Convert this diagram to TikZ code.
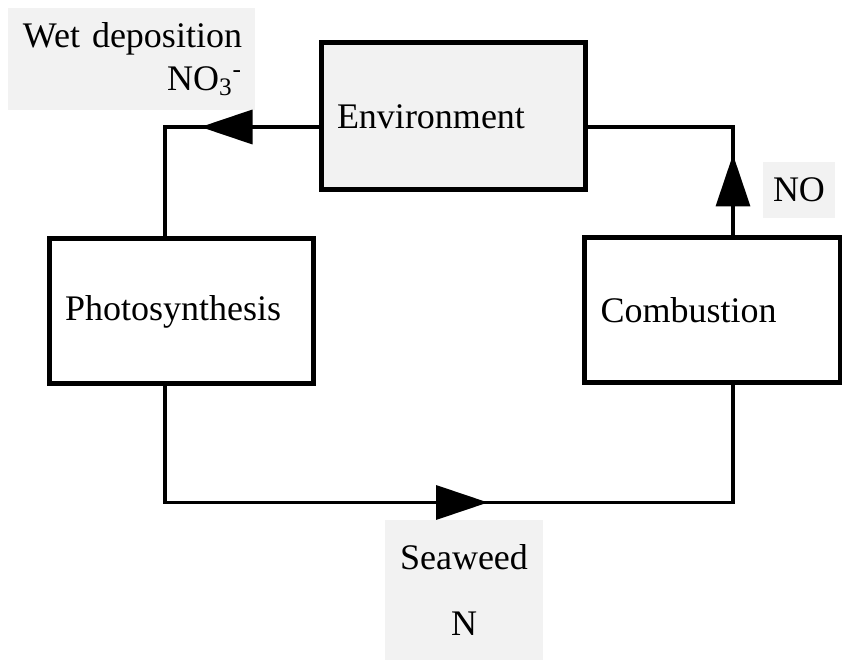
\documentclass[tikz,border=0pt]{standalone}
\usepackage{fontspec}
\setmainfont{Liberation Serif}
\usetikzlibrary{arrows.meta,decorations.markings}
\definecolor{boxgray}{HTML}{F2F2F2}

\begin{document}
\begin{tikzpicture}[
  x=0.5pt, y=-0.5pt,
  font=\fontsize{18}{21.6}\selectfont,
  box/.style={draw, line width=2.5pt, align=left, minimum height=72.5pt, inner xsep=8pt, inner ysep=0pt},
  lbl/.style={fill=boxgray, inner sep=0pt},
  arr/.style={line width=1.75pt, postaction={decorate}, decoration={markings, mark=at position #1 with {\arrow{Triangle[length=26pt,width=17pt]}}}}
]
\useasboundingbox (0,0) rectangle (842,663);

% Boxes
\node[box, fill=boxgray, text width=116pt, minimum height=73.5pt] (env) at (453,116.5) {Environment};
\node[box, fill=white, text width=116pt] (photo) at (181,311.5) {Photosynthesis};
\node[box, fill=white, text width=112pt] (comb) at (712.5,310.5) {Combustion};

% Labels
\node[lbl, text width=110.5pt, inner xsep=6.5pt, minimum height=51pt, align=right] (wet) at (131.5,59) {Wet deposition\\NO\textsubscript{3}\textsuperscript{-}};
\node[lbl, minimum width=36pt, minimum height=28pt] (no) at (799,190) {NO};
\node[lbl, minimum width=79pt, minimum height=70pt, align=center] (seaweed) at (464,590) {Seaweed\\[11pt]N};

% Arrows
\draw[arr=59pt] ([yshift=-5.25pt]env.west) -| ([xshift=-8pt]photo.north);
\draw[arr=219.5pt] ([xshift=-8pt]photo.south) -- ++(0,116) -| ([xshift=10.25pt]comb.south);
\draw[arr=40.5pt] ([xshift=10.25pt]comb.north) |- ([yshift=-5.25pt]env.east);
\end{tikzpicture}
\end{document}
